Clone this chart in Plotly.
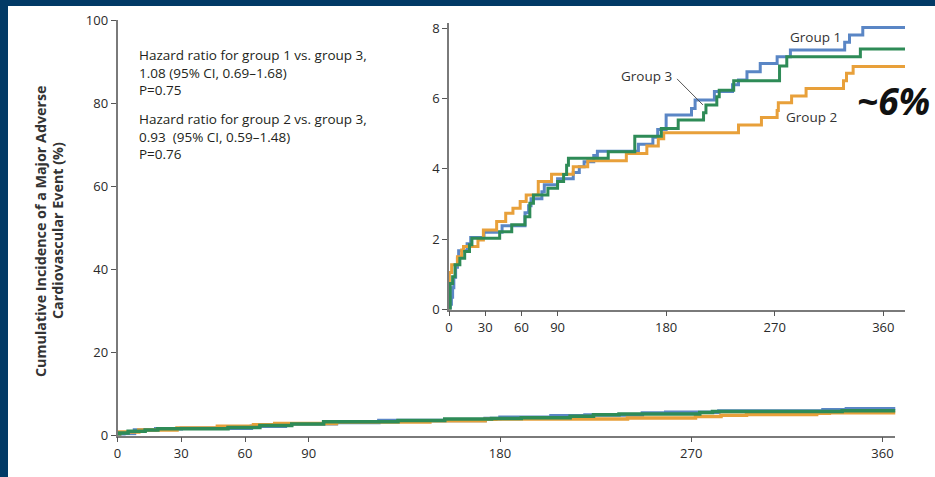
import plotly.graph_objects as go

# ---- inset panel: cumulative incidence (%) by day, step points ----
group1_days = [0, 1, 2, 3, 4, 5.5, 7, 8, 15, 18, 29, 44, 63, 66, 68, 77, 79, 90, 103, 108, 112,
               120, 123, 157, 169, 173, 180, 201, 204, 220, 235, 240, 247, 258, 272, 283, 328,
               332, 343, 378]
group1_vals = [0, 0.15, 0.35, 0.62, 0.92, 1.2, 1.45, 1.67, 1.87, 2.05, 2.2, 2.38, 2.75, 2.95, 3.15,
               3.35, 3.55, 3.72, 3.9, 4.06, 4.2, 4.38, 4.5, 4.7, 4.9, 5.12, 5.53, 5.72, 5.96, 6.2,
               6.39, 6.53, 6.76, 7.0, 7.19, 7.38, 7.6, 7.81, 8.02, 8.02]

group2_days = [0, 0.3, 2.2, 7, 10.5, 12, 24, 28.5, 39.5, 47, 53, 59, 64, 74, 85, 103, 115, 147,
               164, 173.5, 178, 240, 259, 272, 273, 284, 296, 327, 329.5, 335, 378]
group2_vals = [0, 1.05, 1.27, 1.5, 1.69, 1.79, 1.98, 2.26, 2.5, 2.74, 2.88, 3.07, 3.26, 3.64, 3.85,
               4.06, 4.23, 4.44, 4.65, 4.86, 5.03, 5.25, 5.46, 5.66, 5.88, 6.07, 6.29, 6.51, 6.72,
               6.91, 6.91]

group3_days = [0, 1, 3, 5, 9, 13, 17, 19, 42, 52, 63, 67, 70, 82, 90, 95, 97.5, 99, 132, 154, 176,
               190, 211, 213, 222, 224, 236, 274, 280, 341, 378]
group3_vals = [0, 0.74, 0.93, 1.27, 1.46, 1.65, 1.84, 2.03, 2.21, 2.41, 2.64, 3.02, 3.26, 3.45,
               3.64, 3.84, 4.1, 4.3, 4.49, 4.93, 5.15, 5.39, 5.6, 5.82, 6.05, 6.24, 6.51, 6.93,
               7.19, 7.41, 7.41]

# ---- main panel (0-100 scale): coarser steps as drawn on the full axis ----
main1_days = [0, 3, 8, 18, 30, 63, 79, 103, 123, 173, 180, 204, 220, 247, 258, 283, 332, 343, 378]
main1_vals = [0, 0.5, 1.3, 1.6, 1.75, 2.2, 2.85, 3.1, 3.6, 4.1, 4.4, 4.75, 4.95, 5.4, 5.6, 5.9,
              6.2, 6.45, 6.45]

main2_days = [0, 1, 10, 28, 47, 64, 74, 103, 147, 173, 178, 240, 272, 284, 296, 329, 335, 378]
main2_vals = [0, 0.85, 1.35, 1.8, 2.2, 2.6, 2.9, 3.25, 3.55, 3.9, 4.0, 4.2, 4.55, 4.85, 5.05,
              5.35, 5.5, 5.5]

main3_days = [0, 1, 5, 13, 19, 52, 67, 82, 97, 132, 154, 176, 190, 213, 224, 236, 274, 280, 341,
              378]
main3_vals = [0, 0.6, 1.0, 1.3, 1.6, 1.9, 2.4, 2.75, 3.3, 3.6, 3.95, 4.1, 4.3, 4.65, 5.0, 5.2,
              5.55, 5.75, 5.95, 5.95]

x_ticks = [0, 30, 60, 90, 180, 270, 360]
main_y_ticks = [0, 20, 40, 60, 80, 100]
inset_y_ticks = [0, 2, 4, 6, 8]

hr_blocks = [
    ["Hazard ratio for group 1 vs. group 3,", "1.08 (95% CI, 0.69\u20131.68)", "P=0.75"],
    ["Hazard ratio for group 2 vs. group 3,", "0.93  (95% CI, 0.59\u20131.48)", "P=0.76"],
]

BLUE = "#5a86c5"
ORANGE = "#e8a03a"
GREEN = "#2e8b57"
NAVY = "#023a66"
FONT = "Open Sans"
TEXT = "#2a2a2a"

W, H = 935, 477


def fx(p):
    return p / W


def fy(p):
    return 1 - p / H


main_series = [
    ("Group 1", main1_days, main1_vals, BLUE),
    ("Group 2", main2_days, main2_vals, ORANGE),
    ("Group 3", main3_days, main3_vals, GREEN),
]
inset_series = [
    ("Group 1", group1_days, group1_vals, BLUE),
    ("Group 2", group2_days, group2_vals, ORANGE),
    ("Group 3", group3_days, group3_vals, GREEN),
]

fig = go.Figure()
for name, d, v, c in main_series:
    fig.add_trace(go.Scatter(x=d, y=v, mode="lines", line=dict(color=c, width=3.5, shape="hv"),
                             name=name, xaxis="x", yaxis="y", hoverinfo="skip"))
for name, d, v, c in inset_series:
    fig.add_trace(go.Scatter(x=d, y=v, mode="lines", line=dict(color=c, width=3, shape="hv"),
                             name=name, xaxis="x2", yaxis="y2", hoverinfo="skip"))

axis_common = dict(
    showline=True, linecolor="#7a7a7a", linewidth=1.5,
    ticks="outside", ticklen=5, tickwidth=1.2, tickcolor="#555555",
    showgrid=False, zeroline=False, automargin=False,
    tickfont=dict(family=FONT, size=13, color=TEXT),
)

fig.update_layout(
    template="none",
    width=W, height=H,
    margin=dict(l=0, r=0, t=0, b=0, pad=0),
    paper_bgcolor=NAVY,
    plot_bgcolor="rgba(0,0,0,0)",
    showlegend=False,
    xaxis=dict(domain=[fx(117.5), fx(117.5 + 366 * 2.125)], range=[0, 366],
               tickvals=x_ticks, anchor="y", **axis_common),
    yaxis=dict(domain=[fy(435.5), fy(20)], range=[0, 100],
               tickvals=main_y_ticks, anchor="x", **axis_common),
    xaxis2=dict(domain=[fx(449), fx(905)], range=[0, 378],
                tickvals=x_ticks, anchor="y2", **axis_common),
    yaxis2=dict(domain=[fy(309.5), fy(23)], range=[0, 8.15],
                tickvals=inset_y_ticks, anchor="x2", **axis_common),
)

# white panel over the navy frame
fig.add_shape(type="rect", xref="paper", yref="paper", x0=fx(8), x1=1, y0=0, y1=fy(6),
              fillcolor="white", line=dict(width=0), layer="below")

# y-axis title, one annotation per line
title_lines = ["Cumulative Incidence of a Major Adverse", "Cardiovascular Event (%)"]
for txt, xx in zip(title_lines, [40, 57]):
    fig.add_annotation(xref="paper", yref="paper", x=fx(xx), y=fy(231),
                       text="<b>" + txt + "</b>", textangle=-90, showarrow=False,
                       xanchor="center", yanchor="middle",
                       font=dict(family=FONT, size=14.3, color="#333333"))

# hazard-ratio text blocks (three lines each)
for block, yy in zip(hr_blocks, [72.5, 136]):
    fig.add_annotation(xref="paper", yref="paper", x=fx(137), y=fy(yy),
                       text="<br>".join(block), align="left",
                       showarrow=False, xanchor="left", yanchor="middle",
                       font=dict(family=FONT, size=13.5, color="#231f20"))

# inset group labels
label_font = dict(family=FONT, size=13.5, color="#333333")
fig.add_annotation(xref="x2", yref="y2", x=304, y=7.76, text="Group 1", showarrow=False,
                   font=label_font)
fig.add_annotation(xref="x2", yref="y2", x=300.5, y=5.49, text="Group 2", showarrow=False,
                   font=label_font)
fig.add_annotation(xref="x2", yref="y2", x=164, y=6.64, text="Group 3", showarrow=False,
                   font=label_font)
fig.add_shape(type="line", xref="x2", yref="y2", x0=189, y0=6.56, x1=210.5, y1=5.82,
              line=dict(color="#555555", width=1))

fig.add_annotation(xref="paper", yref="paper", x=fx(893), y=fy(100), text="<b><i>~6%</i></b>",
                   showarrow=False, xanchor="center", yanchor="middle",
                   font=dict(family=FONT, size=37, color="#111111"))

fig.write_html("out.html")
